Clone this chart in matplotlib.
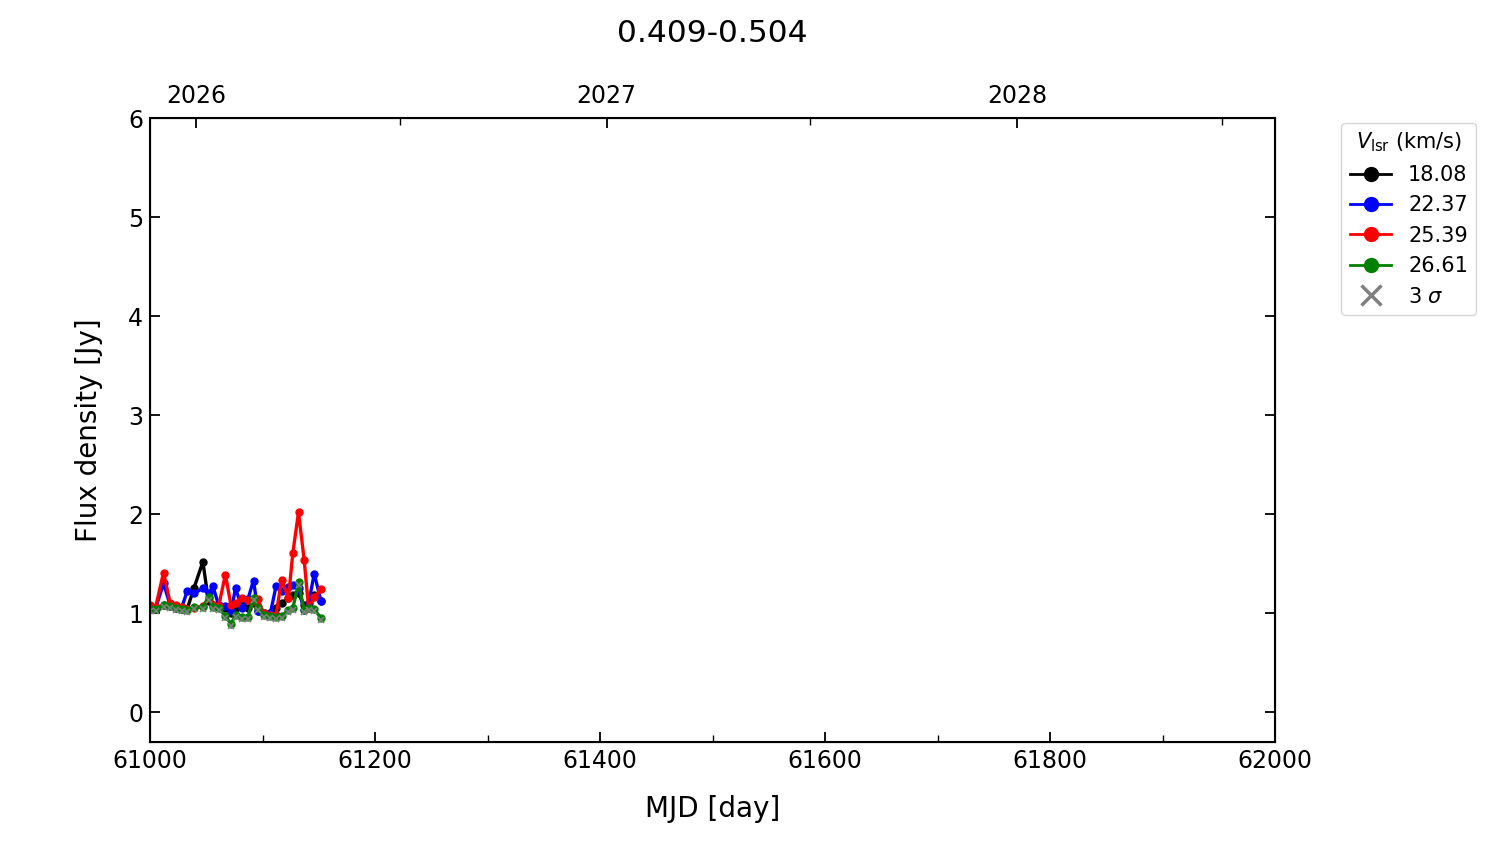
from datetime import datetime
import matplotlib
matplotlib.use('Agg')
from matplotlib import pyplot as plt
from matplotlib.lines import Line2D

# observation dates (MJD)
mjd = [61000, 61005, 61012, 61018, 61023, 61028, 61033, 61039, 61047, 61052,
       61056, 61061, 61067, 61072, 61076, 61082, 61087, 61092, 61096, 61101,
       61107, 61112, 61117, 61123, 61127, 61132, 61137, 61141, 61146, 61152]

# flux density [Jy] per velocity channel
flux_1808 = [1.05, 1.04, 1.08, 1.07, 1.05, 1.04, 1.04, 1.25, 1.52, 1.12,
             1.08, 1.06, 1.05, 1.00, 1.05, 1.08, 1.05, 1.10, 1.02, 1.00,
             1.00, 1.05, 1.10, 1.15, 1.18, 1.20, 1.08, 1.06, 1.18, 1.12]
flux_2237 = [1.06, 1.05, 1.30, 1.08, 1.06, 1.05, 1.22, 1.20, 1.25, 1.20,
             1.27, 1.08, 1.07, 1.02, 1.25, 1.05, 1.14, 1.33, 1.02, 1.00,
             1.00, 1.27, 1.22, 1.26, 1.28, 1.25, 1.03, 1.10, 1.40, 1.12]
flux_2539 = [1.08, 1.06, 1.41, 1.10, 1.08, 1.06, 1.04, 1.05, 1.07, 1.15,
             1.08, 1.07, 1.39, 1.08, 1.10, 1.15, 1.13, 1.12, 1.14, 1.00,
             0.98, 0.98, 1.34, 1.15, 1.61, 2.02, 1.54, 1.05, 1.16, 1.24]
flux_2661 = [1.04, 1.04, 1.08, 1.07, 1.05, 1.04, 1.03, 1.06, 1.06, 1.16,
             1.06, 1.05, 0.97, 0.89, 0.98, 0.96, 0.96, 1.15, 1.05, 0.98,
             0.97, 0.96, 0.97, 1.03, 1.05, 1.31, 1.03, 1.05, 1.04, 0.95]
sigma3 = [1.02, 1.02, 1.06, 1.05, 1.03, 1.02, 1.01, 1.04, 1.04, 1.13,
          1.04, 1.03, 0.95, 0.87, 0.96, 0.94, 0.94, 1.13, 1.03, 0.96,
          0.95, 0.94, 0.95, 1.01, 1.03, 1.28, 1.01, 1.03, 1.02, 0.93]

series = [('18.08', flux_1808, 'black'), ('22.37', flux_2237, 'blue'),
          ('25.39', flux_2539, 'red'), ('26.61', flux_2661, 'green')]

years = [2026, 2027, 2028]

def to_mjd(d):
    return (d - datetime(1858, 11, 17)).days

fig = plt.figure(figsize=(15, 8.44), dpi=100)
ax = fig.add_axes([0.1, 0.121, 0.75, 0.739])

for name, vals, col in series:
    ax.plot(mjd, vals, '-o', color=col, lw=2.4, ms=5, zorder=2)
ax.plot(mjd, sigma3, 'x', color='grey', ms=4, mew=1.2, zorder=3)

ax.set_xlim(61000, 62000)
ax.set_ylim(-0.3, 6)
ax.set_xticks(range(61000, 62001, 200))
ax.set_xticks(range(61100, 62000, 200), minor=True)
ax.set_yticks(range(0, 7))
ax.tick_params(which='both', direction='in', labelsize=17, right=True)
ax.tick_params(which='major', length=7, width=1.3, pad=5)
ax.tick_params(which='minor', length=5, width=1)
for s in ax.spines.values():
    s.set_linewidth(1.5)
ax.set_xlabel('MJD [day]', fontsize=20, labelpad=16)
ax.set_ylabel('Flux density [Jy]', fontsize=20, labelpad=18)

# top axis with calendar years
ax2 = ax.twiny()
ax2.set_xlim(ax.get_xlim())
ax2.set_xticks([to_mjd(datetime(y, 1, 1)) for y in years])
ax2.set_xticklabels([str(y) for y in years])
ax2.set_xticks([to_mjd(datetime(y, 7, 1)) for y in years], minor=True)
ax2.tick_params(which='both', direction='in', labelsize=17)
ax2.tick_params(which='major', length=7, width=1.3, pad=7)
ax2.tick_params(which='minor', length=5, width=1)

fig.text(0.475, 0.96, '0.409-0.504', fontsize=22.5, ha='center', va='center')

handles = [Line2D([], [], color=col, lw=2, marker='o', ms=10) for _, _, col in series]
handles.append(Line2D([], [], color='grey', lw=0, marker='x', ms=15, mew=2.5))
labels = [name for name, _, _ in series] + [r'3 $\sigma$']
ax.legend(handles, labels, title=r'$V_{\rm lsr}$ (km/s)', loc='upper left',
          bbox_to_anchor=(1.059, 0.993), fontsize=15, title_fontsize=15,
          handlelength=2.0, labelspacing=0.5, borderaxespad=0)

fig.savefig('out.png')
